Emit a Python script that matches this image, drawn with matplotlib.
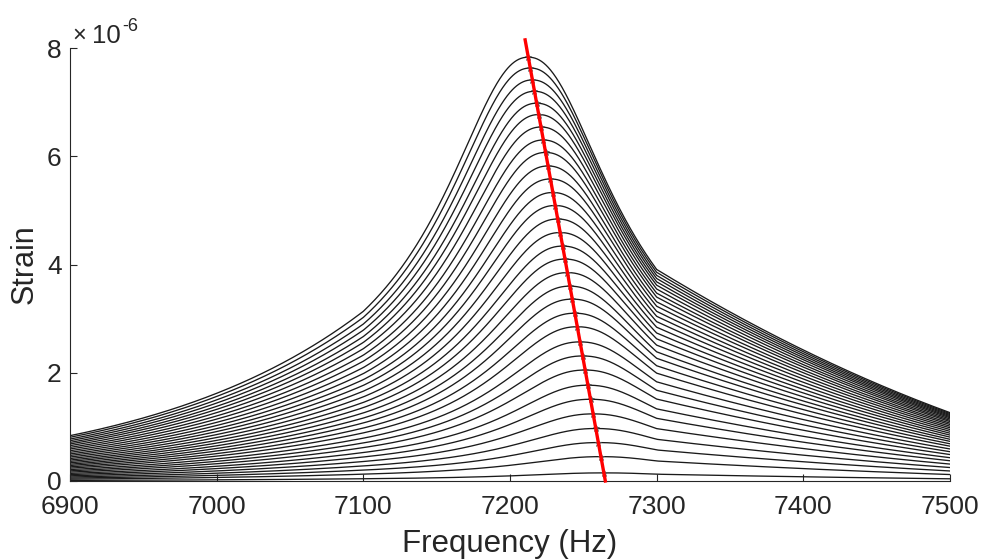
import numpy as np
import matplotlib
matplotlib.use("Agg")
import matplotlib.pyplot as plt

plt.rcParams['font.family'] = ['Liberation Sans', 'DejaVu Sans']

# Peak strain (x1e-6) of each response curve (top to bottom)
peak_strain = [7.83, 7.63, 7.41, 7.20, 6.98, 6.77, 6.54, 6.30, 6.07, 5.82, 5.58,
               5.33, 5.09, 4.84, 4.59, 4.34, 4.10, 3.85, 3.60, 3.36, 3.10, 2.85,
               2.57, 2.31, 2.05, 1.77, 1.51, 1.24, 0.97, 0.71, 0.45, 0.15]
# Peak frequency (Hz) of each curve (star markers)
peak_freq = [7212.5, 7213.8, 7215.3, 7216.7, 7218.2, 7219.6, 7221.1, 7222.7,
             7224.3, 7225.9, 7227.6, 7229.2, 7230.8, 7232.5, 7234.2, 7235.9,
             7237.5, 7239.2, 7240.8, 7242.5, 7244.2, 7245.9, 7247.8, 7249.5,
             7251.2, 7253.1, 7254.9, 7256.7, 7258.5, 7260.2, 7262.0, 7264.0]
x_ticks = [6900, 7000, 7100, 7200, 7300, 7400, 7500]
y_ticks = [0, 2, 4, 6, 8]

freq = np.linspace(6900, 7500, 1201)
gam, q = 53.0, 2.2
k_left = 0.0066
ra, rb = 0.846, 0.169


def response(a, fp):
    def core(f):
        return a / np.sqrt(1 + (np.abs(f - fp) / gam) ** q)
    y = core(freq)
    left = freq < 7100
    right = freq > 7300
    y[left] = core(7100.0) * np.exp(k_left * (freq[left] - 7100))
    t = (freq[right] - 7300) / 200.0
    y[right] = core(7300.0) * (1 - ra * t + rb * t ** 2)
    return y * 1e-6


W, H = 984, 560
fig = plt.figure(figsize=(W / 100, H / 100), dpi=100)
ax = fig.add_axes([70 / W, 1 - 481 / H, 880 / W, 433 / H])

for a, fp in zip(peak_strain, peak_freq):
    ax.plot(freq, response(a, fp), color='#1a1a1a', lw=0.95)

ps = np.array(peak_strain) * 1e-6
pf = np.array(peak_freq)
ax.plot(pf, ps, linestyle='none', marker='*', ms=5, color='#555555', mew=0.6)

# linear fit through the peaks (red line)
coef = np.polyfit(ps, pf, 1)
yy = np.array([0.0, 8.15e-6])
ax.plot(np.polyval(coef, yy), yy, color='#ff0000', lw=2.4, clip_on=False, zorder=5)

ax.set_xlim(6900, 7500)
ax.set_ylim(0, 8e-6)
ax.set_xticks(x_ticks)
ax.set_xticklabels([str(t) for t in x_ticks])
ax.set_yticks([t * 1e-6 for t in y_ticks])
ax.set_yticklabels([str(t) for t in y_ticks])
for s in ['top', 'right']:
    ax.spines[s].set_visible(False)
for s in ['left', 'bottom']:
    ax.spines[s].set_color('#262626')
    ax.spines[s].set_linewidth(0.8)
ax.tick_params(direction='in', length=5, width=0.8, colors='#262626',
               labelsize=19)
ax.tick_params(axis='x', pad=10)
ax.tick_params(axis='y', pad=6)
ax.set_xlabel('Frequency (Hz)', fontsize=22.5, color='#262626', labelpad=7)
ax.set_ylabel('Strain', fontsize=22, color='#262626', labelpad=5)

# exponent label
fig.text(72 / W, 1 - 42 / H, '\u00d7', fontsize=17, color='#262626', va='baseline')
fig.text(92 / W, 1 - 43 / H, '10', fontsize=18.5, color='#262626', va='baseline')
fig.text(122 / W, 1 - 31 / H, '-6', fontsize=13, color='#262626', va='baseline')

fig.savefig('out.png', dpi=100)
